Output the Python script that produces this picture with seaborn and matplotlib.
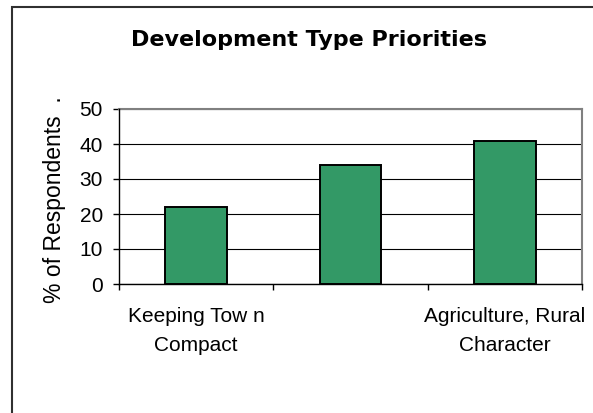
import matplotlib
matplotlib.use("Agg")
import matplotlib.pyplot as plt
import seaborn as sns
import pandas as pd
from matplotlib.patches import Rectangle

# ---- data ----
categories = ["Keeping Town Compact", "Middle Category", "Agriculture, Rural Character"]
values = [22, 34, 41]
tick_labels = ["Keeping Tow n\nCompact", "", "Agriculture, Rural\nCharacter"]
y_ticks = [0, 10, 20, 30, 40, 50]
title = "Development Type Priorities"
y_label = "% of Respondents  ."

sns.set_theme(style="white")
plt.rcParams['font.family'] = ['Liberation Sans', 'DejaVu Sans']
plt.rcParams['text.color'] = 'black'
plt.rcParams['xtick.color'] = 'black'
plt.rcParams['ytick.color'] = 'black'
plt.rcParams['axes.labelcolor'] = 'black'

W, H = 593, 413
fig = plt.figure(figsize=(W / 100, H / 100), dpi=100)
fig.patch.set_facecolor("white")
ax = fig.add_axes([119 / W, 1 - 284 / H, (582 - 119) / W, (284 - 109) / H])

df = pd.DataFrame({"cat": categories, "val": values})
sns.barplot(data=df, x="cat", y="val", order=categories, color="#339966",
            saturation=1, width=0.4, edgecolor="black", linewidth=1.4, ax=ax, zorder=3)

ax.set_ylim(0, 50)
ax.set_xlim(-0.5, 2.5)
ax.set_yticks(y_ticks)
ax.set_yticklabels([str(t) for t in y_ticks], fontsize=15, color="black")
ax.set_xticks([-0.5, 0.5, 1.5, 2.5])
ax.set_xticklabels([])
ax.set_xticks([0, 1, 2], minor=True)
ax.set_xticklabels(tick_labels, minor=True, fontsize=15, linespacing=1.7, color="black")
ax.tick_params(axis="x", which="major", length=4.5, width=1, color="black", direction="out", bottom=True)
ax.tick_params(axis="x", which="minor", length=0, pad=16.5)
ax.tick_params(axis="y", length=4.5, width=1, color="black", direction="out", left=True, pad=7)
ax.set_xlabel("")
ax.set_ylabel("")

ax.grid(axis="y", color="#000000", linewidth=0.8, zorder=0)
ax.set_axisbelow(True)
for s in ["top", "right"]:
    ax.spines[s].set_visible(True)
    ax.spines[s].set_color("#808080")
    ax.spines[s].set_linewidth(1.5)
for s in ["left", "bottom"]:
    ax.spines[s].set_color("black")
    ax.spines[s].set_linewidth(1.0)
    ax.spines[s].set_zorder(4)

fig.text(309 / W, 1 - 46 / H, title, ha="center", va="baseline", color="black",
         fontsize=16, fontweight="bold", family=["DejaVu Sans"])
fig.text(54 / W, 1 - 199.5 / H, y_label, rotation=90, ha="center", va="center",
         fontsize=16.5, color="black")

fig.add_artist(Rectangle((11.5 / W, -0.1), 2, 1.1 - 6.5 / H, transform=fig.transFigure,
                         fill=False, edgecolor="#303030", linewidth=1.5, clip_on=False))

fig.savefig("out.png", dpi=100, facecolor="white")
